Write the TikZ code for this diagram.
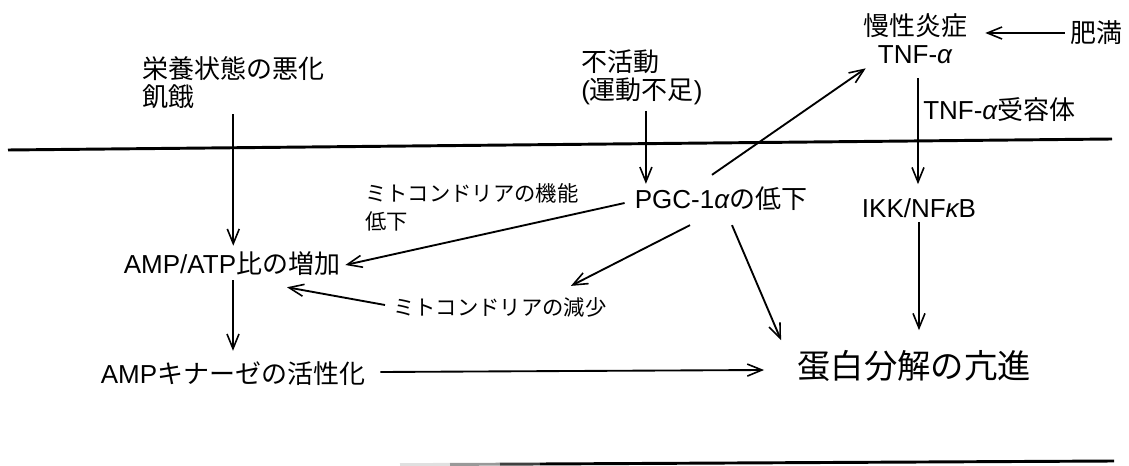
\documentclass[tikz,border=0pt]{standalone}
\usepackage{fontspec}
\setmainfont{Noto Sans CJK JP}
\newfontfamily\latfont{Liberation Sans}
\usetikzlibrary{arrows.meta}
\newcommand{\lt}[1]{{\latfont #1}}
\newcommand{\myalpha}{{\latfont\itshape α}}
\newcommand{\mykappa}{{\latfont\itshape κ}}
\begin{document}
\begin{tikzpicture}[x=0.75pt,y=-0.75pt,
  lab/.style={inner sep=0pt, font=\fontsize{19.5}{21}\selectfont},
  small/.style={inner sep=0pt, font=\fontsize{16}{21}\selectfont},
  big/.style={inner sep=0pt, font=\fontsize{25}{28}\selectfont},
  arr/.style={line width=1.4pt, -{Straight Barb[length=11pt,width=9pt,line width=1.2pt]}},
  rule/.style={line width=2.2pt}]
\useasboundingbox (0,0) rectangle (1129,466);

% dividers
\draw[rule] (8,150) -- (1112,139);
\draw[rule, black!12] (400,464.6) -- (450,464.4);
\draw[rule, black!40] (450,464.4) -- (500,464.2);
\draw[rule, black!75] (500,464.2) -- (540,464.0);
\draw[rule] (540,464.0) -- (1114,461);

% nodes
\node[lab, anchor=west, align=left] (nutri) at (142,83) {栄養状態の悪化\\飢餓};
\node[lab, anchor=west, align=left] (inact) at (581,77) {不活動\\\lt{(}運動不足\lt{)}};
\node[lab] (pgc) at (721,199) {\lt{PGC-1}\myalpha の低下};
\node[lab, align=center] (chronic) at (915,39) {慢性炎症\\\lt{TNF-}\myalpha};
\node[lab] (obes) at (1096,33) {肥満};
\node[lab, anchor=west] (recep) at (923,110) {\lt{TNF-}\myalpha 受容体};
\node[lab] (ikk) at (919,208) {\lt{IKK/NF}\mykappa\lt{B}};
\node[big] (prot) at (914,366) {蛋白分解の亢進};
\node[lab] (ampatp) at (232,264) {\lt{AMP/ATP}比の増加};
\node[lab] (ampk) at (233,374) {\lt{AMP}キナーゼの活性化};
\node[small, anchor=west, align=left] (mitof) at (365,207) {ミトコンドリアの機能\\低下};
\node[small, anchor=west] (mitod) at (393,307) {ミトコンドリアの減少};

% connectors
\draw[arr] ([shift={(0,5)}]nutri.south) -- ([shift={(0,-6)}]nutri.south |- ampatp.north);
\draw[arr] ([shift={(4,6)}]inact.south) -- ([shift={(4,-3)}]inact.south |- pgc.north);
\draw[arr] ([shift={(-9,-12)}]pgc.north) -- ([shift={(3,4)}]chronic.south west);
\draw[arr] ([shift={(-5,0)}]obes.west) -- ([shift={(18,0)}]obes.west -| chronic.east);
\draw[arr] ([shift={(3,14)}]chronic.south) -- ([shift={(3,-14)}]chronic.south |- ikk.north);
\draw[arr] ([shift={(0,4)}]ikk.south) -- ([shift={(0,-20)}]ikk.south |- prot.north);
\draw[arr] ([shift={(11,14)}]pgc.south) -- ([shift={(-16,-10)}]prot.north west);
\draw[arr] ([shift={(-31,14)}]pgc.south) -- ([shift={(-36,-11)}]mitod.north east);
\draw[arr] ([shift={(-8,-2)}]mitod.west) -- ([shift={(55,11)}]ampatp.south);
\draw[arr] ([shift={(-10,4)}]pgc.west) -- ([shift={(5,1)}]ampatp.east);
\draw[arr] ([shift={(15,-2)}]ampk.east) -- ([shift={(-33,4)}]prot.west);
\draw[arr] ([shift={(1,4)}]ampatp.south) -- ([shift={(1,-11)}]ampatp.south |- ampk.north);
\end{tikzpicture}
\end{document}
